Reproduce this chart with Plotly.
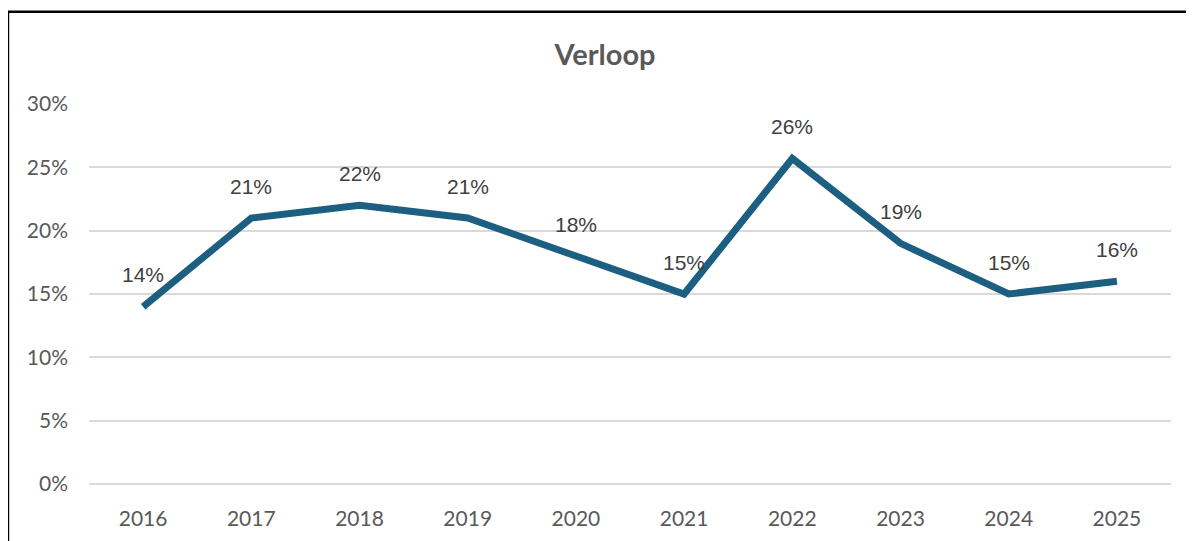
import plotly.graph_objects as go

# Data
years = ["2016", "2017", "2018", "2019", "2020", "2021", "2022", "2023", "2024", "2025"]
verloop = [0.14, 0.21, 0.22, 0.21, 0.18, 0.15, 0.257, 0.19, 0.15, 0.16]
labels = ["14%", "21%", "22%", "21%", "18%", "15%", "26%", "19%", "15%", "16%"]
y_ticks = [0, 0.05, 0.10, 0.15, 0.20, 0.25, 0.30]
y_tick_text = ["0%", "5%", "10%", "15%", "20%", "25%", "30%"]

COLORS = {
    "line": "#1C5F80",
    "grid": "#D9D9D9",
    "tick": "#595959",
    "label": "#404040",
    "title": "#595959",
}

fig = go.Figure()

fig.add_trace(go.Scatter(
    x=years, y=verloop,
    mode="lines",
    line=dict(color=COLORS["line"], width=7),
    showlegend=False,
    hoverinfo="skip",
))

# data labels above each point (category axis -> use the category index)
for i, (v, lab) in enumerate(zip(verloop, labels)):
    fig.add_annotation(
        x=i, y=v, text=lab, showarrow=False,
        yshift=32,
        font=dict(family="Liberation Sans, Arial", size=21, color=COLORS["label"]),
    )

# chart border (partly off-page, like the cropped original)
fig.add_shape(
    type="rect", xref="paper", yref="paper",
    x0=-0.0749, x1=1.03, y0=-0.2, y1=1.243,
    line=dict(color="black", width=2.5),
    fillcolor="rgba(0,0,0,0)",
)

fig.update_layout(
    width=1194, height=541,
    margin=dict(l=81, r=31, t=96, b=65),
    paper_bgcolor="white",
    plot_bgcolor="white",
    title=dict(
        text="<b>Verloop</b>",
        x=597 / 1194, xanchor="center",
        y=1 - 47 / 541, yanchor="middle",
        font=dict(family="Lato, Open Sans", size=29, color=COLORS["title"]),
    ),
    xaxis=dict(
        type="category",
        range=[-0.5, 9.5],
        showgrid=False,
        showline=False,
        zeroline=False,
        ticks="",
        ticklabelstandoff=20,
        tickfont=dict(family="Lato, Open Sans", size=21, color=COLORS["tick"]),
    ),
    yaxis=dict(
        range=[0, 0.30],
        tickvals=y_ticks,
        ticktext=y_tick_text,
        showgrid=True,
        gridcolor=COLORS["grid"],
        gridwidth=1.5,
        zeroline=True,
        zerolinecolor=COLORS["grid"],
        zerolinewidth=1.5,
        ticks="",
        ticklabelstandoff=20,
        tickfont=dict(family="Lato, Open Sans", size=21, color=COLORS["tick"]),
    ),
)

fig.write_html("out.html")
